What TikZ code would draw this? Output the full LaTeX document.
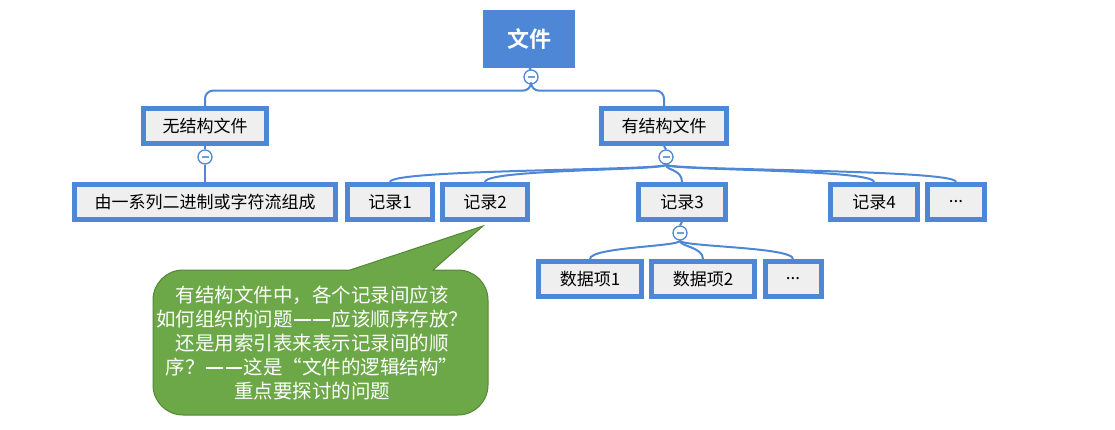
\documentclass[tikz,border=0pt]{standalone}
\usepackage{fontspec}
\usepackage{tikz}
\usetikzlibrary{calc, positioning}
\usepackage{xcolor}
\newfontfamily\cjk{Noto Sans CJK SC}[BoldFont={Noto Sans CJK SC Bold}]
\definecolor{mapblue}{RGB}{78,135,214}
\definecolor{boxgray}{RGB}{239,239,239}
\definecolor{notegreen}{RGB}{108,168,72}
\definecolor{noteedge}{RGB}{84,135,52}
\newcommand{\boxfont}{\cjk\fontsize{17}{20}\selectfont}
% full-width dash pair
\newcommand{\cjkdash}{\makebox[1em]{\rule[0.3em]{0.85em}{0.07em}}}

\begin{document}
\begin{tikzpicture}[x=1pt, y=-1pt,
    topic/.style={draw=mapblue, line width=5pt, fill=boxgray, minimum height=35pt,
      inner sep=0pt, font=\boxfont},
    fold/.style={circle, draw=mapblue, fill=white, line width=1.3pt, minimum size=14pt,
      inner sep=0pt, path picture={\draw[mapblue!80, line width=1.4pt]
        ([xshift=-3.5pt]path picture bounding box.center) --
        ([xshift=3.5pt]path picture bounding box.center);}},
    branch/.style={draw=mapblue, line width=2pt},
    callout/.style={fill=notegreen, draw=noteedge, line width=1pt}]
  \useasboundingbox (0,0) rectangle (1115,430);

  % root and first level
  \node[fill=mapblue, text=white, minimum width=92pt, minimum height=58pt,
    font=\cjk\bfseries\fontsize{22}{26}\selectfont] (file) at (529,39) {文件};
  \node[fold] (c0) at (531,77) {};
  \node[topic, minimum width=123pt] (unstr) at (205,126) {无结构文件};
  \node[topic, minimum width=125pt] (struct) at (664,126) {有结构文件};
  \node[fold] (cu) at (205,157) {};
  \node[fold] (cs) at (666,157) {};

  % second level
  \node[topic, minimum width=261pt] (stream) at (205,202) {由一系列二进制或字符流组成};
  \node[topic, minimum width=85pt] (rec1) at (390,202) {记录1};
  \node[topic, minimum width=85pt] (rec2) at (485,202) {记录2};
  \node[topic, minimum width=87pt] (rec3) at (682,202) {记录3};
  \node[topic, minimum width=87pt] (rec4) at (874,202) {记录4};
  \node[topic, minimum width=57pt] (recx) at (956,202) {...};
  \node[fold] (c3) at (680,233) {};

  % data items
  \node[topic, minimum width=103pt] (item1) at (590,279) {数据项1};
  \node[topic, minimum width=103pt] (item2) at (703,279) {数据项2};
  \node[topic, minimum width=56pt] (itemx) at (793,279) {...};

  % branches
  \draw[branch] (file.south) -- (c0.north);
  \draw[branch, rounded corners=8pt] (c0.south) -- ++(0,6) -| (unstr.north);
  \draw[branch, rounded corners=8pt] (c0.south) -- ++(0,6) -| (struct.north);
  \draw[branch] (unstr.south) -- (cu.north);
  \draw[branch] (struct.south) -- (cs.north);
  \draw[branch] (cu.south) -- (stream.north);
  \foreach \r in {rec1, rec2, rec3, rec4, recx}
    \draw[branch] (cs.south) .. controls +(0,6) and +(0,-13) .. (\r.north);
  \draw[branch] (rec3.south) -- (c3.north);
  \foreach \d in {item1, item2, itemx}
    \draw[branch] (c3.south) .. controls +(0,6) and +(0,-12) .. (\d.north);

  % callout
  \coordinate (tip) at (483,226);
  \draw[callout] (tip) -- (433,270) [rounded corners=30pt] -- (488,270) -- (488,415)
    -- (153,415) -- (153,270) [sharp corners] -- (350,270) -- cycle;
  \node[text=white, align=center, font=\cjk\fontsize{19.5}{24}\selectfont] (note) at (312,343)
    {有结构文件中，各个记录间应该\\如何组织的问题\cjkdash\cjkdash 应该顺序存放？\\还是用索引表来表示记录间的顺\\序？\cjkdash\cjkdash 这是“文件的逻辑结构”\\重点要探讨的问题};
\end{tikzpicture}
\end{document}
